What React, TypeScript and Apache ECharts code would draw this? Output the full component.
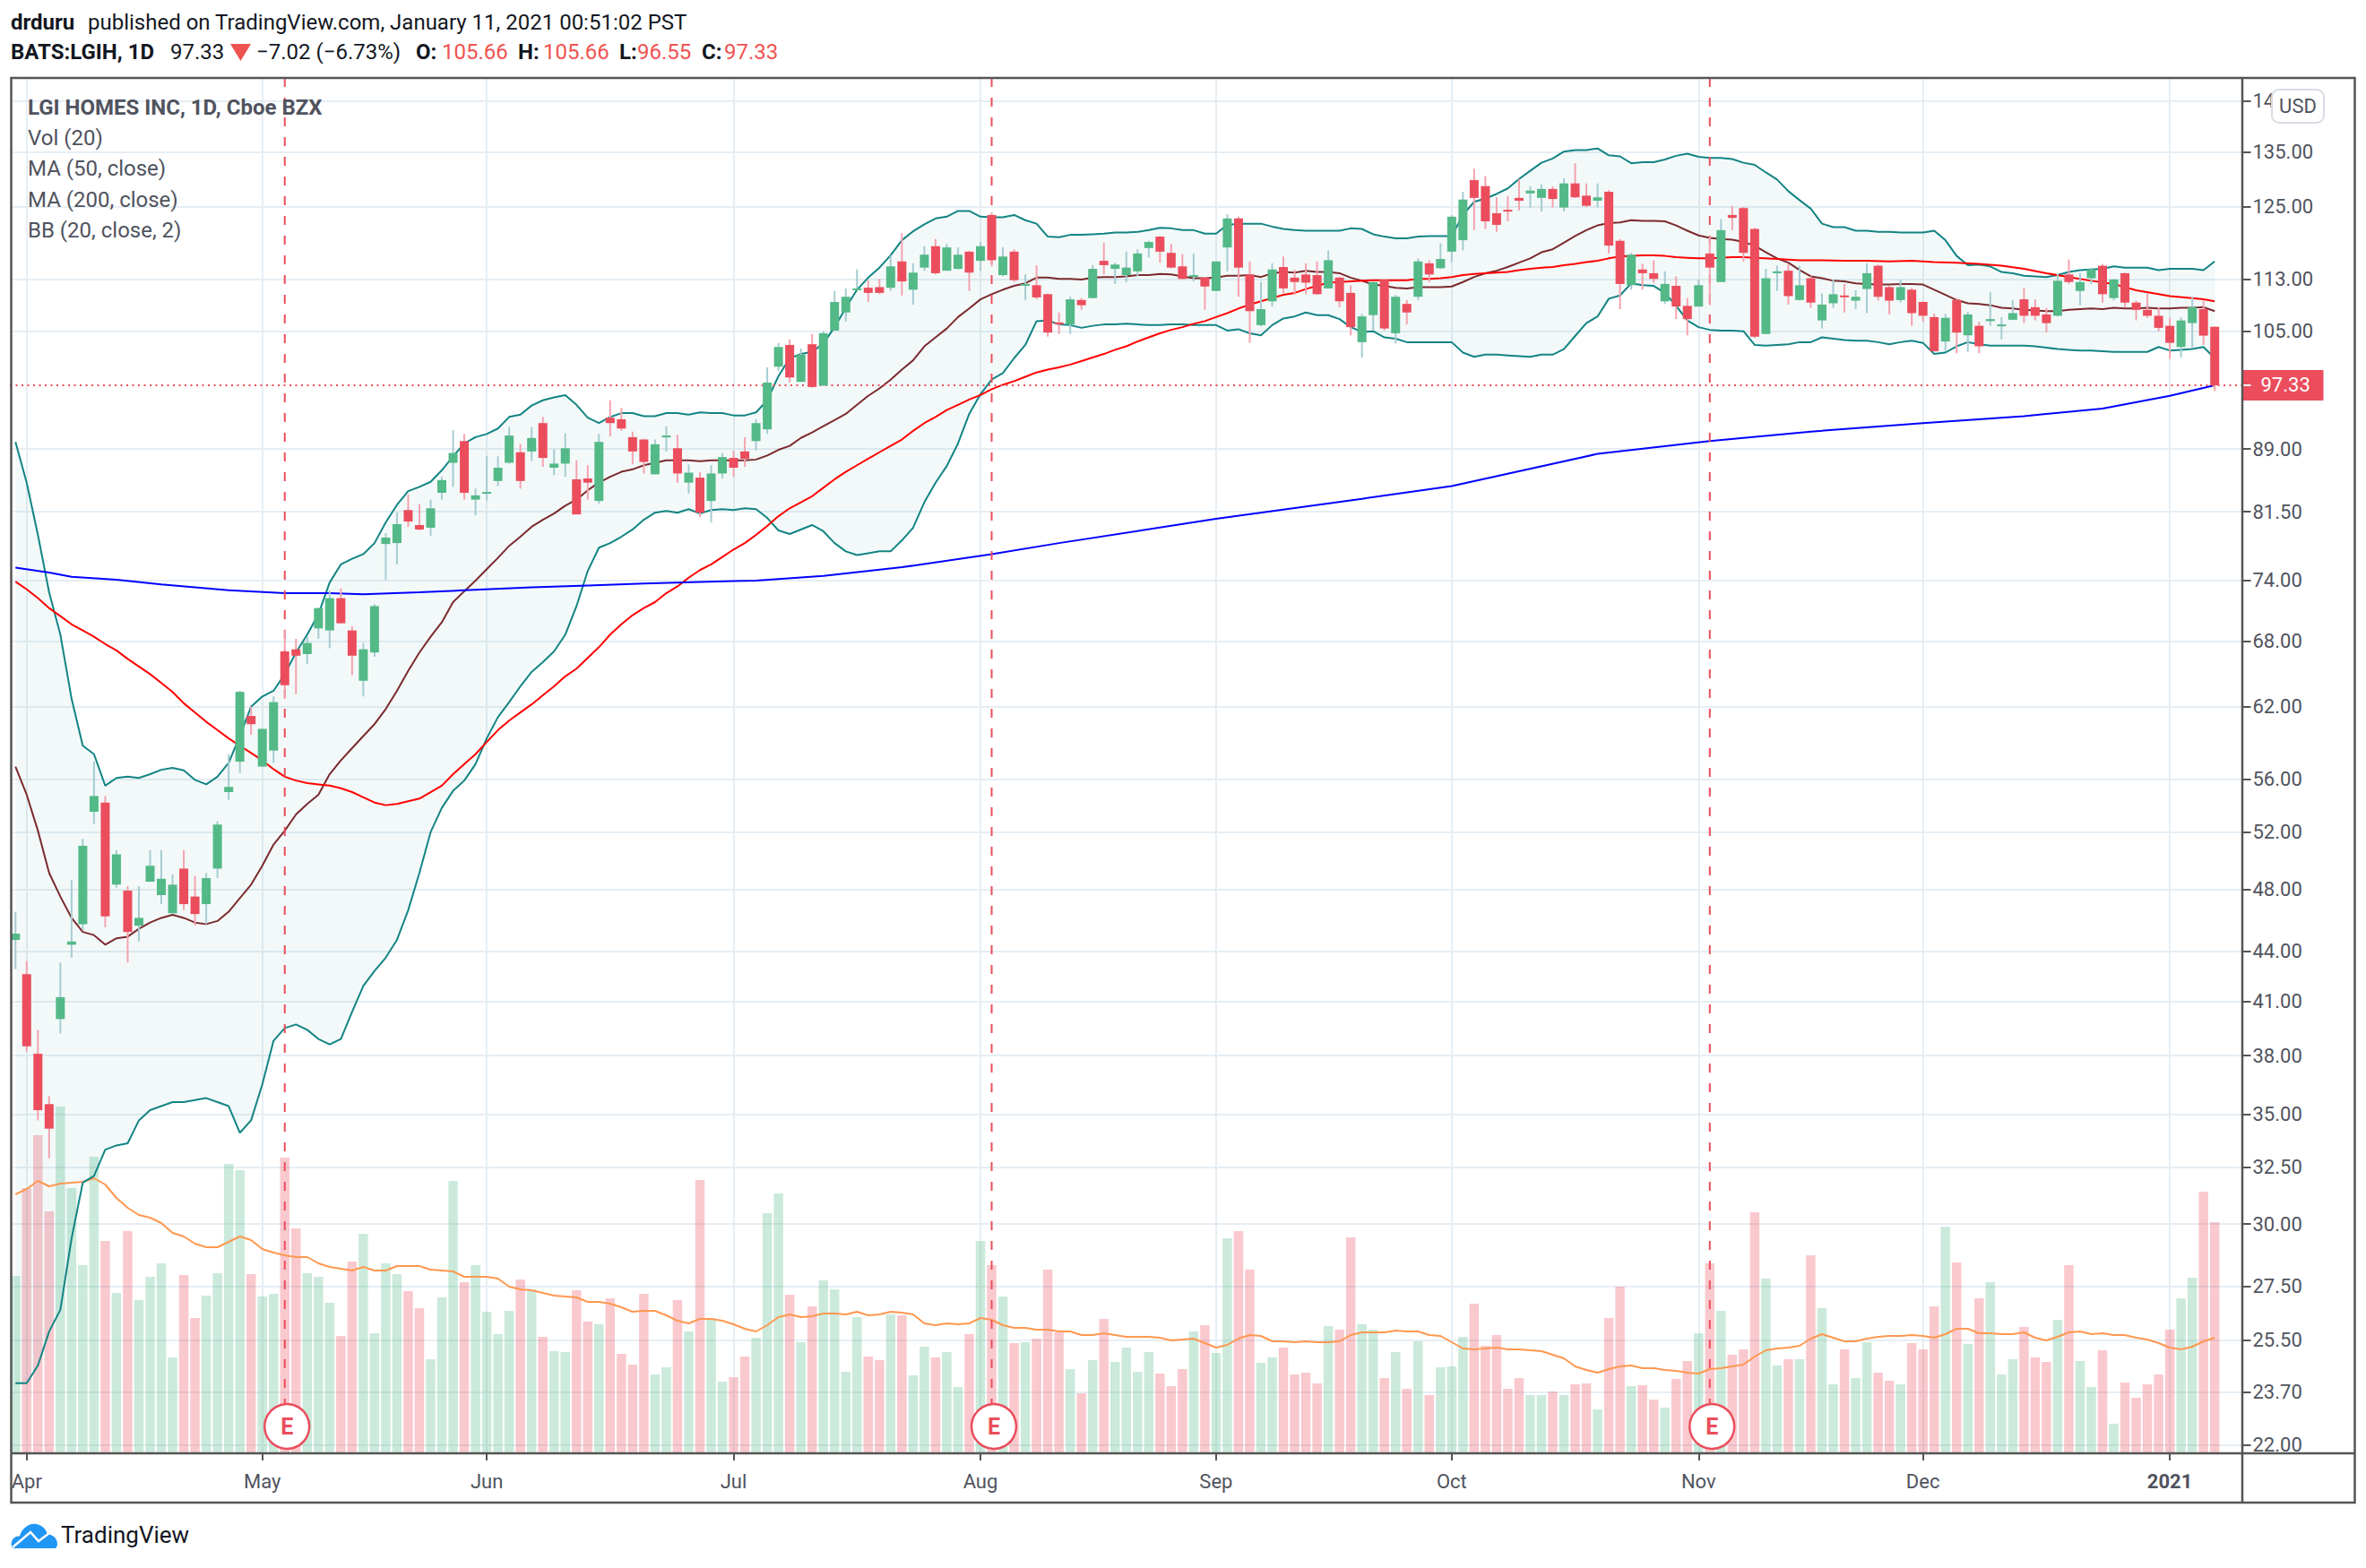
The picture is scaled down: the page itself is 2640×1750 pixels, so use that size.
import React, { useEffect, useRef } from "react";
import * as echarts from "echarts";

const BAR_COUNT = 197;
const holidays = ["2020-04-10", "2020-05-25", "2020-07-03", "2020-09-07", "2020-11-26", "2020-12-25", "2021-01-01"];
const monthLabels: Record<string, string> = {
  "2020-04-01": "Apr", "2020-05-01": "May", "2020-06-01": "Jun", "2020-07-01": "Jul", "2020-08-03": "Aug",
  "2020-09-01": "Sep", "2020-10-01": "Oct", "2020-11-02": "Nov", "2020-12-01": "Dec", "2021-01-04": "{b|2021}",
};
const priceTicks = [22, 23.7, 25.5, 27.5, 30, 32.5, 35, 38, 41, 44, 48, 52, 56, 62, 68, 74, 81.5, 89, 105, 113, 125, 135, 145];
const lastClose = 97.33;
const earningsBars = [24, 87, 151];

const ohlc: number[][] = [
  [44.7,46.5,42.9,45.1],[42.6,43.4,38.2,38.5],[38.1,39.4,34.7,35.2],[35.5,35.9,32.9,34.3],[40.0,43.3,39.2,41.25],
  [44.4,48.6,43.6,44.6],[45.7,51.5,45.3,51.0],[53.5,57.4,52.6,54.7],[54.2,54.7,45.5,46.2],[48.3,50.7,48.1,50.4],
  [47.9,48.2,43.3,45.2],[45.6,48.2,44.6,46.1],[48.5,50.7,48.5,49.6],[47.6,50.7,47.0,48.7],[46.4,49.0,46.4,48.3],
  [49.4,50.7,46.6,47.0],[47.5,48.9,45.6,46.35],[47.0,49.1,45.7,48.75],[49.4,52.8,48.75,52.55],[55.0,58.0,54.4,55.4],
  [57.4,63.4,56.5,63.3],[61.2,62.0,59.6,60.5],[57.0,60.1,57.0,60.1],[58.3,62.9,57.3,62.4],[67.0,69.0,62.7,63.9],
  [67.2,68.2,63.1,66.6],[66.75,68.4,65.8,67.8],[69.2,71.2,68.2,71.2],[69.0,73.0,67.3,72.2],[72.2,73.2,69.7,69.7],
  [69.0,69.4,64.8,66.6],[64.3,67.8,62.9,67.2],[66.9,71.6,66.5,71.4],[77.9,79.1,74.1,78.6],[78.0,81.4,75.7,80.1],
  [81.7,83.5,79.8,80.4],[80.0,82.4,79.4,79.5],[79.7,82.9,78.8,81.9],[83.7,85.6,82.9,85.2],[87.3,91.4,84.4,88.5],
  [90.0,90.9,82.9,83.7],[82.9,84.2,81.1,83.4],[83.6,88.1,82.8,83.8],[85.1,88.1,84.5,86.7],[87.3,91.8,87.2,90.7],
  [88.6,89.6,84.2,85.1],[88.7,91.8,87.5,90.4],[92.3,93.1,86.8,87.9],[86.7,89.0,85.8,87.2],[87.2,91.0,85.6,89.1],
  [85.3,87.6,81.2,81.2],[85.4,87.0,82.9,84.9],[82.75,90.9,82.4,89.9],[93.0,95.3,90.6,92.3],[92.8,94.3,91.3,91.6],
  [90.5,91.2,87.1,88.7],[90.2,90.3,86.0,87.4],[85.9,90.2,85.9,89.6],[90.5,91.9,88.7,90.7],[89.1,90.8,84.9,86.0],
  [84.9,87.1,83.6,86.1],[85.5,86.2,80.9,81.4],[82.75,87.0,80.3,86.0],[86.0,88.5,85.4,88.0],[87.9,88.8,85.6,86.7],
  [88.7,90.5,86.8,87.8],[90.0,92.8,88.8,92.3],[91.5,99.8,90.9,97.7],[99.9,103.3,99.3,102.7],[103.0,103.8,97.7,98.4],
  [97.8,102.5,97.8,101.6],[103.1,104.6,97.0,97.1],[97.3,105.0,97.2,104.7],[105.1,111.1,105.1,109.4],[107.8,111.5,106.4,110.2],
  [111.3,114.5,111.2,111.5],[111.6,112.8,109.4,110.8],[111.7,113.0,110.6,110.8],[111.6,116.8,111.1,115.0],[115.8,120.5,110.4,112.6],
  [111.3,115.5,109.0,114.0],[114.8,118.3,114.3,116.9],[118.3,119.5,113.7,113.9],[114.3,118.7,114.3,118.1],[114.6,118.1,114.5,116.9],
  [117.4,117.5,111.1,114.0],[115.9,119.0,114.3,118.3],[123.6,124.1,115.0,116.0],[113.6,118.1,113.4,116.6],[117.4,117.8,112.5,112.8],
  [112.0,113.7,109.7,112.2],[112.0,115.2,109.8,110.1],[110.6,110.7,104.2,104.8],[106.3,107.8,104.6,106.0],[106.0,110.2,104.6,109.8],
  [109.7,110.0,108.2,108.9],[110.0,115.2,110.0,114.6],[115.9,118.9,113.7,115.2],[114.6,115.6,112.2,115.3],[113.6,117.4,112.5,114.8],
  [114.2,117.8,113.4,117.1],[118.0,119.2,116.4,119.0],[119.9,120.0,115.6,117.4],[117.2,118.7,114.7,114.8],[115.0,117.0,112.9,113.0],
  [113.3,117.1,112.6,113.6],[113.2,113.3,108.2,111.8],[111.1,115.8,111.1,115.8],[118.1,123.7,114.2,123.0],[123.0,123.3,110.2,114.8],
  [113.7,115.8,103.3,108.0],[105.9,112.5,105.7,108.3],[109.5,115.5,108.7,114.5],[114.9,116.6,110.8,111.5],[113.2,114.5,110.5,112.5],
  [113.7,115.5,110.6,112.4],[113.6,115.8,110.5,110.6],[111.5,117.6,111.5,116.0],[113.2,113.3,108.6,109.5],[110.8,112.0,104.4,105.6],
  [103.4,107.6,101.2,107.2],[107.4,112.5,105.1,112.5],[112.9,113.0,105.1,105.4],[104.7,110.5,103.2,110.2],[109.1,109.7,106.0,107.8],
  [110.2,116.3,109.7,115.8],[115.5,116.0,112.5,113.7],[114.7,118.8,114.6,116.2],[117.4,123.6,115.7,123.3],[119.3,127.7,117.6,126.3],
  [129.8,131.9,121.0,126.6],[128.7,130.5,121.2,122.5],[123.9,126.7,120.7,121.9],[124.5,126.9,122.5,124.2],[126.6,130.0,124.4,126.1],
  [127.4,128.7,124.9,127.9],[126.6,129.0,124.2,128.2],[128.2,128.7,124.9,126.4],[124.9,130.1,124.2,129.2],[129.2,132.9,126.6,126.7],
  [127.0,129.2,125.0,125.2],[126.1,129.2,124.9,126.7],[127.7,128.0,117.1,118.4],[119.2,119.5,108.3,112.2],[112.0,117.2,111.3,116.9],
  [114.5,115.4,111.3,113.9],[113.9,116.0,112.4,113.0],[109.5,114.2,109.1,112.2],[111.9,113.4,106.8,108.7],[108.8,110.0,104.4,106.8],
  [108.7,112.9,108.7,112.0],[117.1,119.9,108.9,114.8],[112.5,122.9,112.5,121.0],[123.6,125.2,121.0,123.1],[124.8,125.0,115.8,117.2],
  [121.2,121.4,104.0,104.2],[104.6,114.6,104.6,113.1],[113.9,115.1,111.1,114.2],[114.3,115.4,109.0,110.3],[109.7,115.1,109.6,112.0],
  [113.1,113.4,108.5,109.3],[106.6,110.7,105.4,109.0],[109.2,112.9,108.5,110.6],[110.4,112.2,107.8,110.2],[109.6,111.2,108.3,110.2],
  [111.4,115.5,107.7,113.9],[115.1,115.3,109.6,110.2],[111.7,111.9,107.5,109.6],[109.7,112.9,109.3,111.7],[111.3,111.6,105.8,107.7],
  [109.4,109.5,106.4,107.3],[107.1,107.6,102.0,102.1],[103.5,107.6,102.1,107.0],[109.7,110.0,101.8,104.8],[104.4,107.9,102.0,107.5],
  [105.8,106.4,101.8,102.8],[106.5,110.9,105.8,106.8],[105.8,107.1,103.8,106.0],[106.7,109.7,106.7,107.7],[109.8,111.6,106.2,107.3],
  [108.6,109.8,106.6,107.3],[107.5,108.5,104.8,106.2],[107.3,113.8,107.2,112.7],[113.7,116.1,112.2,112.5],[111.1,113.9,108.9,112.5],
  [113.1,114.8,112.2,114.5],[115.1,115.4,109.3,110.6],[110.0,113.0,109.6,112.9],[113.9,114.0,108.6,109.3],[109.3,109.6,106.6,108.2],
  [108.2,110.7,107.0,107.3],[107.3,108.6,105.0,105.5],[105.8,107.0,101.0,103.3],[102.7,107.1,101.2,106.6],[106.2,110.2,102.5,108.6],
  [108.3,109.6,103.0,104.35],[105.66,105.66,96.55,97.33],
];

const volumes = [
  198,296,355,270,387,296,210,331,237,179,248,171,197,212,107,199,151,176,201,323,
  316,200,175,178,330,251,201,197,168,131,214,245,134,212,200,181,162,105,174,304,
  191,210,158,133,159,194,183,130,114,113,182,147,144,173,111,99,178,88,96,171,
  136,305,151,80,85,108,129,268,290,177,124,164,193,183,91,152,108,104,155,154,
  87,119,107,113,74,133,237,210,175,123,124,128,205,135,94,67,104,150,102,118,
  91,113,89,75,94,136,143,112,240,248,205,101,107,118,88,90,78,142,138,241,
  144,138,84,113,72,125,65,96,97,130,167,120,132,72,84,65,65,69,65,77,
  78,49,151,186,75,76,60,51,83,103,134,212,159,110,116,269,195,98,105,105,
  221,162,77,116,84,124,90,81,77,123,116,164,253,213,122,173,191,88,105,141,
  107,102,149,210,103,74,115,33,79,62,77,88,138,173,196,292,258,
];

const volumeMa = [
  289,295,304,298,301,302,303,307,300,285,274,266,263,257,246,242,234,230,230,236,
  242,238,228,224,221,219,219,212,208,206,204,208,204,204,209,209,209,205,204,203,
  197,197,197,195,186,183,182,179,176,175,174,169,169,167,163,158,159,159,154,148,
  145,150,150,148,144,139,136,143,152,155,152,153,156,156,155,158,154,155,158,157,
  155,145,143,145,144,145,151,149,143,140,140,138,138,136,136,132,132,134,132,130,
  130,130,129,126,127,128,123,118,121,128,132,131,125,125,124,125,124,124,125,132,
  135,135,135,137,136,136,132,131,124,117,116,117,118,116,116,115,114,110,106,97,
  93,90,94,97,98,95,95,93,92,90,89,94,95,97,99,108,115,117,118,120,
  128,133,129,125,125,128,130,131,131,132,131,129,133,139,139,134,134,133,133,135,
  129,126,130,135,136,133,134,132,132,129,127,123,118,116,119,125,129,
];

const bbUpper = [
  89.9,84.9,78.9,72.8,68.6,62.7,58.7,58.0,55.5,56.1,56.2,56.1,56.4,56.75,56.9,56.7,55.95,55.6,56.2,57.3,
  59.5,62.0,62.9,63.4,64.9,66.9,68.6,70.6,73.8,75.7,76.3,76.8,78.0,80.3,82.3,83.9,84.4,85.0,86.4,88.1,
  89.7,90.5,90.9,91.6,93.1,93.4,94.6,95.3,95.7,96.0,94.7,93.0,
  92.3,93.1,93.6,93.6,93.2,93.2,93.6,93.6,93.4,93.7,93.6,93.6,93.3,93.3,93.7,95.3,98.6,
  101.1,101.7,102.0,103.2,105.6,108.5,111.3,113.2,114.8,116.8,119.3,120.8,122.0,123.0,123.3,124.3,124.3,123.3,123.2,123.2,
  123.6,122.7,122.1,119.9,119.8,120.2,120.2,120.3,120.4,120.6,120.6,120.7,121.0,121.4,
  121.3,121.0,121.0,120.4,120.4,121.9,122.1,122.1,122.1,121.6,121.2,121.0,120.9,120.9,120.9,120.9,121.3,121.2,120.3,119.9,
  119.6,119.6,119.9,120.0,120.0,120.0,123.6,125.9,126.5,127.3,128.3,130.0,131.5,133.0,133.8,135.1,135.4,135.4,135.7,134.4,
  134.2,132.9,133.1,133.1,133.6,134.3,134.7,134.1,133.9,133.9,133.7,133.0,132.6,
  131.2,129.9,127.8,126.2,124.7,122.1,121.5,121.5,120.9,120.9,120.7,120.7,120.6,120.6,120.6,120.9,119.3,116.7,115.2,115.3,
  115.0,114.1,113.9,113.5,113.4,113.3,113.6,114.1,114.4,114.5,114.6,115.0,114.8,114.8,114.8,114.4,114.6,114.6,114.6,114.4,115.8,
];

const bbLower = [
  24.0,24.0,24.6,25.8,26.6,29.4,31.8,32.1,33.3,33.5,33.6,
  34.7,35.2,35.4,35.6,35.6,35.7,35.8,35.6,35.4,34.1,34.7,36.5,38.8,39.5,39.7,39.4,
  38.9,38.6,38.9,40.4,
  41.9,42.8,43.6,44.7,46.6,49.1,52.0,53.8,55.1,55.9,57.2,59.3,61.1,62.4,63.8,65.1,66.0,67.0,68.6,71.4,75.0,
  77.5,78.0,78.7,79.5,80.6,81.4,81.6,81.4,81.8,81.3,81.7,81.8,81.7,81.9,81.8,80.8,79.4,79.0,79.5,80.0,79.3,78.0,77.1,76.7,
  76.9,77.1,77.1,78.3,79.7,82.6,84.9,86.9,89.7,93.5,96.1,98.1,99.0,101.1,
  103.0,106.5,106.6,106.0,105.9,105.5,105.8,106.0,106.0,106.1,106.0,105.9,105.9,
  106.0,106.0,105.9,105.9,105.9,105.1,105.3,104.7,104.4,105.9,106.9,107.2,107.8,107.4,107.4,106.8,105.6,104.9,105.0,104.1,
  103.9,103.4,103.4,103.4,103.4,103.4,101.9,101.3,101.6,101.6,101.5,101.4,101.3,101.6,101.6,102.4,104.3,106.2,107.2,109.9,
  110.4,112.3,112.0,111.9,110.8,108.8,106.6,105.6,105.2,105.1,105.1,105.0,103.0,
  102.9,103.0,103.1,103.4,103.4,104.1,103.9,103.7,103.6,103.6,103.4,103.1,103.4,103.6,103.3,101.7,101.9,102.8,103.4,103.1,
  102.9,102.9,102.9,102.9,102.8,102.6,102.4,102.3,102.2,102.2,102.1,102.0,102.0,102.0,102.0,102.7,102.2,102.3,102.4,102.7,101.1,
];

const bbBasis = [
  57.0,54.8,52.1,49.1,47.5,46.1,45.2,45.0,44.4,44.8,44.9,45.4,45.8,46.1,46.3,46.1,45.8,45.7,45.9,46.5,
  47.4,48.3,49.6,51.1,52.1,53.3,54.1,54.8,56.4,57.5,58.5,59.5,60.5,61.8,63.4,65.2,66.9,68.4,69.8,71.8,
  72.9,74.0,75.2,76.4,77.7,78.7,79.8,80.6,81.3,82.2,82.9,84.0,
  84.9,85.6,86.2,86.5,87.0,87.3,87.6,87.6,87.6,87.5,87.6,87.6,87.6,87.6,87.7,88.2,88.9,89.4,90.4,91.1,
  91.9,92.7,93.5,94.7,95.9,96.9,98.1,99.5,100.8,
  102.8,104.1,105.4,107.1,108.4,109.8,110.6,111.3,111.9,112.3,113.2,113.2,113.0,113.0,112.9,113.2,113.3,113.3,113.4,113.6,113.6,113.8,
  113.7,113.4,113.1,113.1,113.2,113.5,113.5,113.6,113.3,113.9,114.1,114.0,114.3,114.1,114.1,113.9,113.2,112.7,112.1,111.9,
  111.6,111.5,111.7,111.7,111.7,111.8,112.5,113.3,113.9,114.3,114.9,115.6,116.3,117.3,117.8,118.9,120.0,121.0,121.8,122.2,
  122.3,122.7,122.6,122.6,122.5,121.8,120.9,120.1,119.7,119.5,119.4,119.0,118.4,
  117.3,116.3,115.6,114.4,113.4,113.1,112.7,112.6,112.3,112.2,112.1,112.1,112.2,112.2,112.1,111.3,110.5,109.7,109.2,109.1,
  108.9,108.5,108.4,108.2,108.1,108.0,108.0,108.2,108.3,108.4,108.3,108.5,108.4,108.4,108.5,108.4,108.4,108.5,108.5,108.6,108.0,
];

const ma50 = [
  73.9,73.1,72.2,71.2,70.4,69.6,69.0,68.4,67.7,67.1,66.3,65.6,64.9,64.1,63.3,62.3,61.5,60.7,60.0,59.3,
  58.7,58.1,57.5,56.8,56.2,55.9,55.7,55.6,55.5,55.3,55.0,54.6,54.2,54.0,54.1,54.3,54.5,55.0,55.5,56.4,
  57.2,58.0,59.0,60.0,60.8,61.5,62.2,63.0,63.8,64.7,65.4,66.4,
  67.4,68.6,69.6,70.5,71.2,71.8,72.7,73.4,74.3,75.1,75.7,76.5,77.3,78.0,78.9,79.9,81.0,81.9,82.6,83.3,
  84.3,85.3,86.2,87.0,87.8,88.6,89.4,90.2,91.3,92.3,93.1,94.0,94.7,95.4,96.0,96.8,97.4,97.9,98.5,99.1,
  99.5,99.8,100.2,100.7,101.2,101.7,102.3,102.8,103.5,104.1,104.7,
  105.2,105.6,106.1,106.5,107.1,107.7,108.4,109.0,109.5,110.0,110.5,110.8,111.4,111.9,112.4,112.5,112.6,112.7,112.8,112.8,
  112.8,112.8,113.0,113.0,113.1,113.3,113.6,113.8,113.9,114.0,114.1,114.4,114.6,114.8,114.9,115.2,115.4,115.7,115.9,116.3,
  116.6,116.7,116.8,116.8,116.7,116.5,116.4,116.3,116.3,116.4,116.5,116.5,116.4,
  null,116.2,null,116.0,null,116.0,null,115.9,null,115.9,null,115.8,null,115.9,null,115.7,null,115.6,null,115.4,
  null,115.1,null,114.6,null,113.9,null,113.3,null,112.7,null,112.2,null,111.2,null,110.6,110.3,null,110.0,109.8,109.5,
];

const ma200Bars = [0,3,5,9,13,19,24,28,31,36,40,46,51,56,64,66,72,79,87,93,107,120,128,141,151,160,170,179,186,192,196];
const ma200 = [75.35,74.85,74.4,74.1,73.6,73.0,72.7,72.7,72.6,72.8,73.0,73.3,73.5,73.7,73.95,74.0,74.5,75.4,76.8,78.0,80.7,83.0,84.5,88.4,90.0,91.2,92.3,93.2,94.2,95.9,97.33];

const C = {
  green: "#53B987", red: "#EB4D5C", greenWick: "#A6CCD2", redWick: "#F4A3AE",
  greenVol: "rgba(83,185,135,0.3)", redVol: "rgba(235,77,92,0.3)",
  grid: "#E6EEF4", frame: "#555555", text: "#50535E", ink: "#131722",
  teal: "#138484", basis: "#7B2A2E", ma50: "#FF0000", ma200: "#0000FF", volMa: "#FF9850",
  fill: "rgba(19,132,132,0.05)", hdrRed: "#EF5350",
};
const FONT = "Roboto, 'Noto Sans', sans-serif";

function tradingDates(): string[] {
  const out: string[] = [];
  const d = new Date(Date.UTC(2020, 2, 31));
  while (out.length < BAR_COUNT) {
    const s = d.toISOString().slice(0, 10);
    const wd = d.getUTCDay();
    if (wd !== 0 && wd !== 6 && !holidays.includes(s)) out.push(s);
    d.setUTCDate(d.getUTCDate() + 1);
  }
  return [...out, "pad-1", "pad-2"];
}

const cloudPath =
  "M2 28 C-1.5 22 2 14 10 14.5 C12 5 23 -3 33 2.5 C38 5 40 9 41 12.5 C47 12 52 17.5 52 23 C52 25 51.5 26.5 50 28 Z";

export default function App() {
  const ref = useRef<HTMLDivElement>(null);
  useEffect(() => {
    if (!ref.current) return;
    echarts.graphic.registerShape("tvCloud", echarts.graphic.extendPath({ type: "path", buildPath: undefined } as any && cloudPath as any, {}) as any);
    const chart = echarts.init(ref.current, undefined, { renderer: "svg", width: 2640, height: 1750 });
    const dates = tradingDates();
    const isTick = (_i: number, v: string) => v in monthLabels;

    const hdr = (text: string, x: number, y: number, opts: any = {}) => ({
      type: "text", z: 100, silent: true,
      style: { text, x, y, fill: opts.fill || C.ink, font: `${opts.bold ? "bold " : ""}${opts.size || 24}px ${FONT}`, verticalAlign: "middle", align: "left" },
    });

    const option: any = {
      animation: false,
      backgroundColor: "#ffffff",
      grid: { left: 11, top: 87, width: 2491.5, height: 1535, containLabel: false },
      xAxis: {
        type: "category", data: dates, boundaryGap: true,
        axisLine: { show: false },
        axisTick: { show: true, alignWithLabel: true, interval: isTick, length: 8, lineStyle: { color: C.frame, width: 2 } },
        splitLine: { show: true, alignWithLabel: true, interval: isTick, lineStyle: { color: C.grid, width: 2 } },
        axisLabel: {
          interval: isTick, margin: 20, color: C.text, fontFamily: FONT, fontSize: 22,
          formatter: (v: string) => monthLabels[v] || "",
          rich: { b: { fontFamily: FONT, fontSize: 22, fontWeight: "bold", color: C.text } },
        },
      },
      yAxis: [
        {
          type: "log", logBase: Math.E, position: "right", min: 21.75, max: 149.8,
          axisLine: { show: false },
          axisTick: { show: true, length: 9, customValues: priceTicks, lineStyle: { color: C.frame, width: 2 } },
          minorTick: { show: false },
          splitLine: { show: true, lineStyle: { color: C.grid, width: 2 } },
          axisLabel: { customValues: priceTicks, margin: 11, color: C.text, fontFamily: FONT, fontSize: 22, formatter: (v: number) => v.toFixed(2), showMinLabel: true, showMaxLabel: true, hideOverlap: false },
        },
        { type: "value", min: 0, max: 1535, show: false, splitLine: { show: false } },
      ],
      series: [
        {
          type: "bar", name: "Vol", yAxisIndex: 1, barWidth: 10.5, z: 1, silent: true,
          data: volumes.map((v, i) => ({ value: v, itemStyle: { color: ohlc[i][3] >= ohlc[i][0] ? C.greenVol : C.redVol } })),
        },
        {
          type: "line", name: "Vol MA", yAxisIndex: 1, z: 3, silent: true, showSymbol: false,
          lineStyle: { color: C.volMa, width: 2 }, data: volumeMa.map((v, i) => [i, v]),
        },
        {
          type: "custom", name: "BB fill", z: 2, silent: true, data: [[0, bbUpper[0]]], encode: { x: 0, y: 1 },
          renderItem: (_p: any, api: any) => {
            const pts: number[][] = [];
            bbUpper.forEach((v, i) => pts.push(api.coord([i, v])));
            for (let i = bbLower.length - 1; i >= 0; i--) pts.push(api.coord([i, bbLower[i]]));
            return { type: "polygon", shape: { points: pts }, style: { fill: C.fill } };
          },
        },
        ...[
          { name: "BB upper", d: bbUpper.map((v, i) => [i, v]), color: C.teal },
          { name: "BB lower", d: bbLower.map((v, i) => [i, v]), color: C.teal },
          { name: "BB basis", d: bbBasis.map((v, i) => [i, v]), color: C.basis },
          { name: "MA 50", d: ma50.map((v, i) => [i, v]), color: C.ma50 },
          { name: "MA 200", d: ma200.map((v, i) => [ma200Bars[i], v]), color: C.ma200 },
        ].map((s) => ({
          type: "line", name: s.name, z: 3, silent: true, showSymbol: false, connectNulls: true,
          lineStyle: { color: s.color, width: 2 }, data: s.d,
        })),
        {
          type: "custom", name: "Last price line", z: 4, silent: true, data: [[0, lastClose]], encode: { x: 0, y: 1 },
          renderItem: (p: any, api: any) => {
            const y = api.coord([0, api.value(1)])[1];
            const cs = p.coordSys;
            return {
              type: "line", shape: { x1: cs.x, y1: y, x2: cs.x + cs.width, y2: y },
              style: { stroke: C.red, lineWidth: 2, lineDash: [2, 4.5] },
            };
          },
        },
        {
          type: "custom", name: "Earnings line", z: 4, silent: true, data: earningsBars.map((b) => [b, lastClose]), encode: { x: 0, y: 1 },
          renderItem: (p: any, api: any) => {
            const x = api.coord([api.value(0), lastClose])[0];
            const cs = p.coordSys;
            return {
              type: "line", shape: { x1: x, y1: cs.y, x2: x, y2: 1568 },
              style: { stroke: C.red, lineWidth: 2, lineDash: [10, 12] },
            };
          },
        },
        {
          type: "custom", name: "Candles", z: 5, silent: true,
          data: ohlc.map((r, i) => [i, r[0], r[1], r[2], r[3]]), encode: { x: 0, y: [1, 2, 3, 4] },
          renderItem: (_p: any, api: any) => {
            const i = api.value(0), o = api.value(1), h = api.value(2), l = api.value(3), c = api.value(4);
            const up = c >= o;
            const x = api.coord([i, o])[0];
            const yo = api.coord([i, o])[1], yc = api.coord([i, c])[1], yh = api.coord([i, h])[1], yl = api.coord([i, l])[1];
            const top = Math.min(yo, yc), bh = Math.max(Math.abs(yo - yc), 2);
            return {
              type: "group",
              children: [
                { type: "rect", shape: { x: x - 1, y: yh, width: 2, height: yl - yh }, style: { fill: up ? C.greenWick : C.redWick } },
                { type: "rect", shape: { x: x - 5, y: top, width: 10, height: bh }, style: { fill: up ? C.green : C.red } },
              ],
            };
          },
        },
        {
          type: "custom", name: "Earnings marker", z: 6, silent: true, data: earningsBars.map((b) => [b, lastClose]), encode: { x: 0, y: 1 },
          renderItem: (_p: any, api: any) => {
            const x = api.coord([api.value(0), lastClose])[0] + 2.5;
            return {
              type: "group",
              children: [
                { type: "circle", shape: { cx: x, cy: 1592, r: 25 }, style: { fill: "#ffffff", stroke: C.red, lineWidth: 2.5 } },
                { type: "text", style: { text: "E", x, y: 1592, fill: C.red, font: `bold 25px ${FONT}`, align: "center", verticalAlign: "middle" } },
              ],
            };
          },
        },
        {
          type: "custom", name: "Last price tag", z: 7, silent: true, data: [[196, lastClose]], encode: { x: 0, y: 1 },
          renderItem: (p: any, api: any) => {
            const y = api.coord([196, api.value(1)])[1];
            const left = p.coordSys.x + p.coordSys.width;
            return {
              type: "group",
              children: [
                { type: "rect", shape: { x: left, y: y - 17, width: 90, height: 34 }, style: { fill: C.red } },
                { type: "rect", shape: { x: left, y: y - 1, width: 9, height: 2 }, style: { fill: "#ffffff" } },
                { type: "text", style: { text: lastClose.toFixed(2), x: left + 20, y, fill: "#ffffff", font: `22px ${FONT}`, align: "left", verticalAlign: "middle" } },
              ],
            };
          },
        },
      ],
      graphic: [
        { type: "rect", z: 50, silent: true, shape: { x: 12.5, y: 87, width: 2615, height: 1590 }, style: { fill: "none", stroke: C.frame, lineWidth: 2.5 } },
        { type: "line", z: 50, silent: true, shape: { x1: 12.5, y1: 1622, x2: 2627.5, y2: 1622 }, style: { stroke: C.frame, lineWidth: 2.5 } },
        { type: "line", z: 50, silent: true, shape: { x1: 2502, y1: 87, x2: 2502, y2: 1677 }, style: { stroke: C.frame, lineWidth: 2.5 } },
        hdr("drduru", 12, 25, { bold: true }),
        hdr("published on TradingView.com, January 11, 2021 00:51:02 PST", 98, 25),
        hdr("BATS:LGIH, 1D", 12, 58, { bold: true }),
        hdr("97.33", 190, 58),
        { type: "polygon", z: 100, silent: true, shape: { points: [[257, 49], [280, 49], [268.5, 68]] }, style: { fill: C.hdrRed } },
        hdr("\u22127.02 (\u22126.73%)", 286, 58),
        hdr("O:", 464, 58, { bold: true }),
        hdr("105.66", 493, 58, { fill: C.hdrRed }),
        hdr("H:", 578, 58, { bold: true }),
        hdr("105.66", 606, 58, { fill: C.hdrRed }),
        hdr("L:", 691, 58, { bold: true }),
        hdr("96.55", 711, 58, { fill: C.hdrRed }),
        hdr("C:", 783, 58, { bold: true }),
        hdr("97.33", 808, 58, { fill: C.hdrRed }),
        hdr("LGI HOMES INC, 1D, Cboe BZX", 31, 120, { bold: true, fill: C.text }),
        hdr("Vol (20)", 31, 154, { fill: C.text }),
        hdr("MA (50, close)", 31, 188, { fill: C.text }),
        hdr("MA (200, close)", 31, 223, { fill: C.text }),
        hdr("BB (20, close, 2)", 31, 257, { fill: C.text }),
        { type: "rect", z: 100, silent: true, shape: { x: 2535, y: 100, width: 58, height: 37, r: 8 }, style: { fill: "#ffffff", stroke: "#D6DCE3", lineWidth: 2 } },
        { type: "text", z: 101, silent: true, style: { text: "USD", x: 2564, y: 118.5, fill: C.text, font: `22px ${FONT}`, align: "center", verticalAlign: "middle" } },
        { type: "tvCloud", z: 100, silent: true, x: 12, y: 1700, style: { fill: "#2196F3" } },
        { type: "polyline", z: 101, silent: true, shape: { points: [[14, 1727], [34, 1710], [43, 1720], [59, 1708]] }, style: { fill: "none", stroke: "#ffffff", lineWidth: 2.5 } },
        hdr("TradingView", 68, 1713, { size: 26 }),
      ],
    };
    chart.setOption(option);
    return () => chart.dispose();
  }, []);
  return <div ref={ref} style={{ position: "absolute", left: 0, top: 0, width: 2640, height: 1750 }} />;
}
